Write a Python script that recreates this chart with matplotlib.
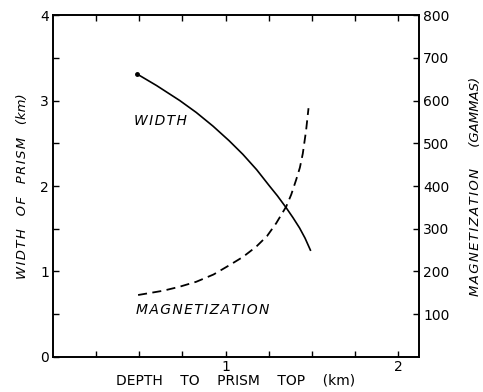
import matplotlib.pyplot as plt
import numpy as np

# depth to prism top (km) and width of prism (km)
width_depth = [0.487, 0.60, 0.734, 0.83, 0.927, 1.02, 1.10, 1.18, 1.254, 1.30, 1.351, 1.39, 1.428, 1.46, 1.491]
width_km = [3.31, 3.175, 3.00, 2.86, 2.70, 2.53, 2.37, 2.19, 2.00, 1.885, 1.745, 1.63, 1.51, 1.39, 1.25]

# depth to prism top (km) and magnetization (gammas)
mag_depth = [0.493, 0.638, 0.73, 0.830, 0.93, 1.023, 1.10, 1.177, 1.24, 1.293, 1.351, 1.38, 1.408, 1.43, 1.447, 1.466, 1.480]
mag_gammas = [145, 155, 164, 176, 193, 215, 234, 258, 283, 313, 352, 380, 414, 443, 476, 530, 582]

x_ticks = np.arange(0.25, 2.01, 0.25)
x_labels = ["" if t not in (1.0, 2.0) else str(int(t)) for t in x_ticks]
left_ticks = np.arange(0, 4.01, 0.5)
left_labels = [str(int(t)) if t == int(t) else "" for t in left_ticks]
right_ticks = np.arange(100, 801, 100)


def spaced(s):
    return "\u200a".join(s)


plt.rcParams['font.family'] = 'DejaVu Sans'
fig = plt.figure(figsize=(4.83, 3.92), dpi=100)
ax = fig.add_axes([0.1097, 0.0893, 0.7578, 0.8724])
ax2 = ax.twinx()

ax.plot(width_depth, width_km, color='black', lw=1.2)
ax.plot(width_depth[0], width_km[0], 'o', color='black', ms=2.5)
ax2.plot(mag_depth, mag_gammas, color='black', lw=1.3, ls=(0, (5, 3)))

ax.set_xlim(0, 2.12)
ax.set_ylim(0, 4)
ax2.set_ylim(0, 800)

ax.set_xticks(x_ticks)
ax.set_xticklabels(x_labels, fontsize=10)
ax.set_yticks(left_ticks)
ax.set_yticklabels(left_labels, fontsize=10)
ax2.set_yticks(right_ticks)
ax2.set_yticklabels([str(t) for t in right_ticks], fontsize=10)

ax.tick_params(axis='x', direction='in', top=True, length=4, width=1, pad=2)
ax.tick_params(axis='y', direction='in', length=4, width=1, pad=3)
ax2.tick_params(axis='y', direction='in', length=4, width=1, pad=3)

for a in (ax, ax2):
    for s in a.spines.values():
        s.set_linewidth(1.2)

ax.set_xlabel("DEPTH    TO    PRISM    TOP    (km)", fontsize=10, labelpad=0)
ax.set_ylabel(spaced("WIDTH") + "   " + spaced("OF") + "   " + spaced("PRISM") + "   (km)",
              fontsize=9.5, style='italic', labelpad=8)
ax2.set_ylabel(spaced("MAGNETIZATION") + "     (GAMMAS)", fontsize=9.5, style='italic', labelpad=14)

ax.text(0.47, 2.76, spaced("WIDTH"), fontsize=10, style='italic', ha='left', va='center')
ax.text(0.48, 0.55, spaced("MAGNETIZATION"), fontsize=10, style='italic', ha='left', va='center')

fig.savefig("out.png", dpi=100)
